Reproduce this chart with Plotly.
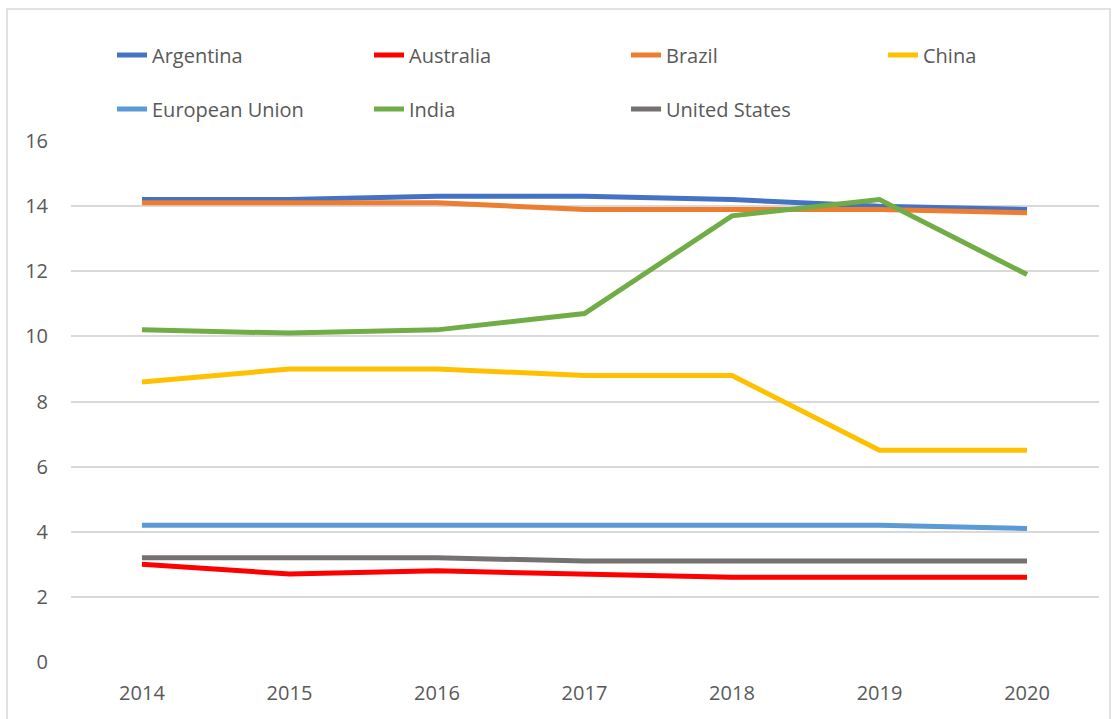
import plotly.graph_objects as go

years = ["2014", "2015", "2016", "2017", "2018", "2019", "2020"]
argentina = [14.2, 14.2, 14.3, 14.3, 14.2, 14.0, 13.9]
australia = [3.0, 2.7, 2.8, 2.7, 2.6, 2.6, 2.6]
brazil = [14.1, 14.1, 14.1, 13.9, 13.9, 13.9, 13.8]
china = [8.6, 9.0, 9.0, 8.8, 8.8, 6.5, 6.5]
eu = [4.2, 4.2, 4.2, 4.2, 4.2, 4.2, 4.1]
india = [10.2, 10.1, 10.2, 10.7, 13.7, 14.2, 11.9]
us = [3.2, 3.2, 3.2, 3.1, 3.1, 3.1, 3.1]

series = [
    ("Argentina", argentina, "#4472C4", "legend"),
    ("Australia", australia, "#FF0000", "legend"),
    ("Brazil", brazil, "#ED7D31", "legend"),
    ("China", china, "#FFC000", "legend"),
    ("European Union", eu, "#5B9BD5", "legend2"),
    ("India", india, "#70AD47", "legend2"),
    ("United States", us, "#767171", "legend2"),
]

FONT = "Open Sans"
TXT = "#595959"

fig = go.Figure()
for name, vals, color, lg in series:
    fig.add_trace(go.Scatter(
        x=years, y=vals, name=name, mode="lines",
        line=dict(color=color, width=5),
        legend=lg,
    ))

W, H = 1115, 719
ml, mr, mt, mb = 71, 16, 141, 57
pw = W - ml - mr
ph = H - mt - mb

def px(xc):
    return (xc - ml) / pw

def py(yc):
    return (H - mb - yc) / ph

legend_common = dict(
    orientation="h",
    xref="paper", yref="paper",
    xanchor="left", yanchor="middle",
    entrywidth=212, entrywidthmode="pixels",
    font=dict(family=FONT, size=20, color=TXT),
    bgcolor="rgba(0,0,0,0)",
    traceorder="normal",
)

fig.update_layout(
    width=W, height=H,
    margin=dict(l=ml, r=mr, t=mt, b=mb, autoexpand=False),
    paper_bgcolor="white",
    plot_bgcolor="white",
    font=dict(family=FONT, size=20, color=TXT),
    legend=dict(x=px(112), y=py(55), **legend_common),
    legend2=dict(x=px(112), y=py(109), **legend_common),
    xaxis=dict(
        type="category", range=[-0.481, 6.488],
        showgrid=False, zeroline=False, showline=False,
        ticks="outside", ticklen=13, tickcolor="rgba(0,0,0,0)",
        tickfont=dict(family=FONT, size=20, color=TXT),
    ),
    yaxis=dict(
        range=[0, 16], dtick=2,
        showgrid=True, gridcolor="#D9D9D9", gridwidth=1.5,
        zeroline=False, showline=False,
        ticks="outside", ticklen=18, tickcolor="rgba(0,0,0,0)",
        tickfont=dict(family=FONT, size=20, color=TXT),
    ),
    shapes=[dict(
        type="rect", xref="paper", yref="paper",
        x0=px(7), x1=px(1110), y0=py(740), y1=py(9),
        line=dict(color="#D9D9D9", width=1.5),
        fillcolor="rgba(0,0,0,0)", layer="below",
    )],
)

fig.write_html(
    "out.html",
    config={"displayModeBar": False},
    post_script="document.body.style.margin='0';document.body.style.overflow='hidden';",
)
